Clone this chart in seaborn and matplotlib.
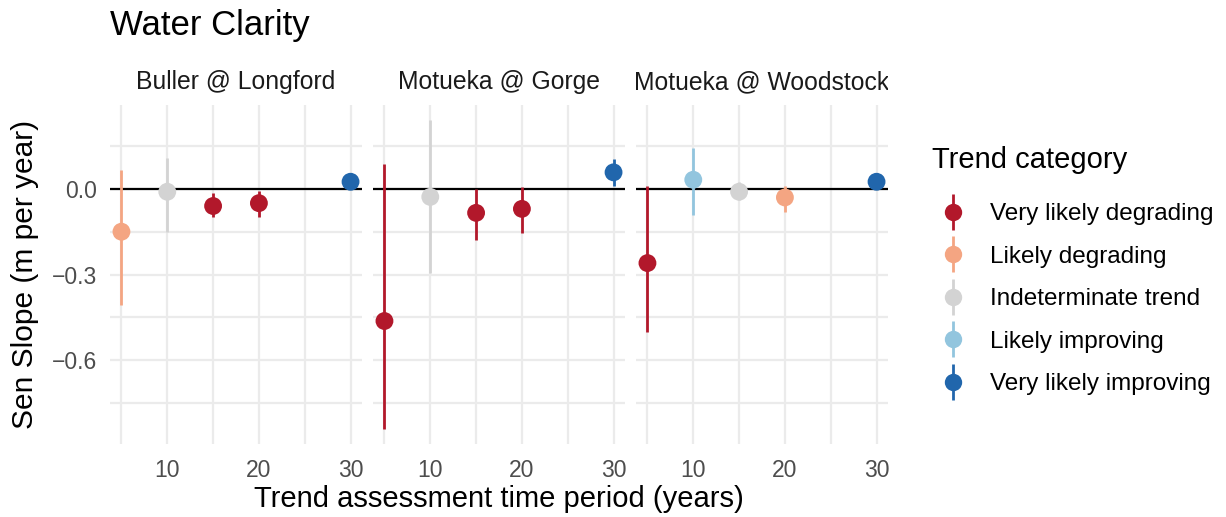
import numpy as np
import pandas as pd
import matplotlib
matplotlib.use("Agg")
import matplotlib.pyplot as plt
import seaborn as sns
from matplotlib.lines import Line2D
from matplotlib.legend_handler import HandlerTuple
from matplotlib.transforms import Bbox, TransformedBbox

# Datos
sites = ["Buller @ Longford", "Motueka @ Gorge", "Motueka @ Woodstock"]
periods = [5, 10, 15, 20, 30]
slope = [-0.150, -0.010, -0.060, -0.050, 0.025,
         -0.463, -0.028, -0.084, -0.070, 0.058,
         -0.260, 0.032, -0.010, -0.030, 0.025]
lower = [-0.407, -0.150, -0.100, -0.100, 0.010,
         -0.840, -0.295, -0.180, -0.155, 0.010,
         -0.500, -0.090, -0.040, -0.080, 0.010]
upper = [0.067, 0.110, -0.014, -0.007, 0.040,
         0.088, 0.240, 0.000, 0.007, 0.105,
         0.010, 0.144, 0.025, 0.010, 0.040]
category = ["Likely degrading", "Indeterminate trend", "Very likely degrading",
            "Very likely degrading", "Very likely improving",
            "Very likely degrading", "Indeterminate trend", "Very likely degrading",
            "Very likely degrading", "Very likely improving",
            "Very likely degrading", "Likely improving", "Indeterminate trend",
            "Likely degrading", "Very likely improving"]
cat_order = ["Very likely degrading", "Likely degrading", "Indeterminate trend",
             "Likely improving", "Very likely improving"]
cat_colors = ["#B2182B", "#F4A582", "#D3D3D3", "#92C5DE", "#2166AC"]

df = pd.DataFrame({
    "site": np.repeat(sites, len(periods)),
    "period": periods * len(sites),
    "slope": slope,
    "lower": lower,
    "upper": upper,
    "category": category,
})
palette = dict(zip(cat_order, cat_colors))

sns.set_theme(style="white")
plt.rcParams["font.family"] = ["Liberation Sans", "DejaVu Sans"]

W, H = 1226, 517
fig = plt.figure(figsize=(W / 100, H / 100), dpi=100)

def fx(px):
    return px / W

def fy(py):
    return 1 - py / H

panel_left = [110, 373, 636]
panel_w = 252
top, bottom = 105, 444
grid_c = "#EBEBEB"

for i, site in enumerate(sites):
    ax = fig.add_axes([fx(panel_left[i]), fy(bottom), fx(panel_w), (bottom - top) / H])
    sub = df[df["site"] == site]
    ax.set_xlim(3.75, 31.25)
    ax.set_ylim(-0.894, 0.294)
    for v in [5, 10, 15, 20, 25, 30]:
        ax.axvline(v, color=grid_c, lw=1.6, zorder=0)
    for v in [0.15, 0.0, -0.15, -0.3, -0.45, -0.6, -0.75]:
        ax.axhline(v, color=grid_c, lw=1.6, zorder=0)
    ax.axhline(0, color="black", lw=1.6, zorder=1)
    ax.vlines(sub["period"], sub["lower"], sub["upper"],
              colors=[palette[c] for c in sub["category"]], lw=2.0, zorder=2)
    sns.scatterplot(data=sub, x="period", y="slope", hue="category",
                    palette=palette, s=165, edgecolor="none", legend=False,
                    ax=ax, zorder=3)
    for s in ax.spines.values():
        s.set_visible(False)
    ax.set_xticks([10, 20, 30])
    ax.set_xticklabels(["10", "20", "30"])
    ax.set_yticks([0.0, -0.3, -0.6])
    if i == 0:
        ax.set_yticklabels(["0.0", "\u22120.3", "\u22120.6"])
    else:
        ax.set_yticklabels([])
    ax.tick_params(axis="x", length=0, labelsize=16.5, labelcolor="#4D4D4D", pad=11)
    ax.tick_params(axis="y", length=0, labelsize=16.5, labelcolor="#4D4D4D", pad=9)
    ax.set_xlabel("")
    ax.set_ylabel("")
    t = ax.text(0.5, 1.0 + (105 - 82) / (bottom - top), site, transform=ax.transAxes,
                ha="center", va="center", fontsize=17.8, color="#1A1A1A")
    clip = TransformedBbox(Bbox([[0, 1], [1, 1.3]]), ax.transAxes)
    t.set_clip_box(clip)
    t.set_clip_on(True)

fig.text(fx(110), fy(25), "Water Clarity", ha="left", va="center", fontsize=25, color="black")
fig.text(fx(499), fy(499), "Trend assessment time period (years)", ha="center",
         va="center", fontsize=21, color="black")
fig.text(fx(25), fy(274), "Sen Slope (m per year)", ha="center", va="center",
         rotation=90, fontsize=21.5, color="black")

# Leyenda: título aparte, entradas con punto y barra vertical
fig.text(fx(932), fy(160), "Trend category", ha="left", va="center", fontsize=21, color="black")
handles = []
for c in cat_colors:
    bar = Line2D([], [], marker="|", markersize=26, mew=2.0, linestyle="None", color=c)
    dot = Line2D([], [], marker="o", markersize=12.5, linestyle="None", color=c, mec="none")
    handles.append((bar, dot))
leg = fig.legend(handles, cat_order, handler_map={tuple: HandlerTuple(ndivide=1)},
                 loc="upper left", bbox_to_anchor=(fx(936), fy(203)), frameon=False,
                 borderpad=0, borderaxespad=0, fontsize=17.5, labelcolor="black",
                 labelspacing=0.845, handlelength=1.4, handletextpad=0.82)

fig.savefig("out.png", dpi=100)
